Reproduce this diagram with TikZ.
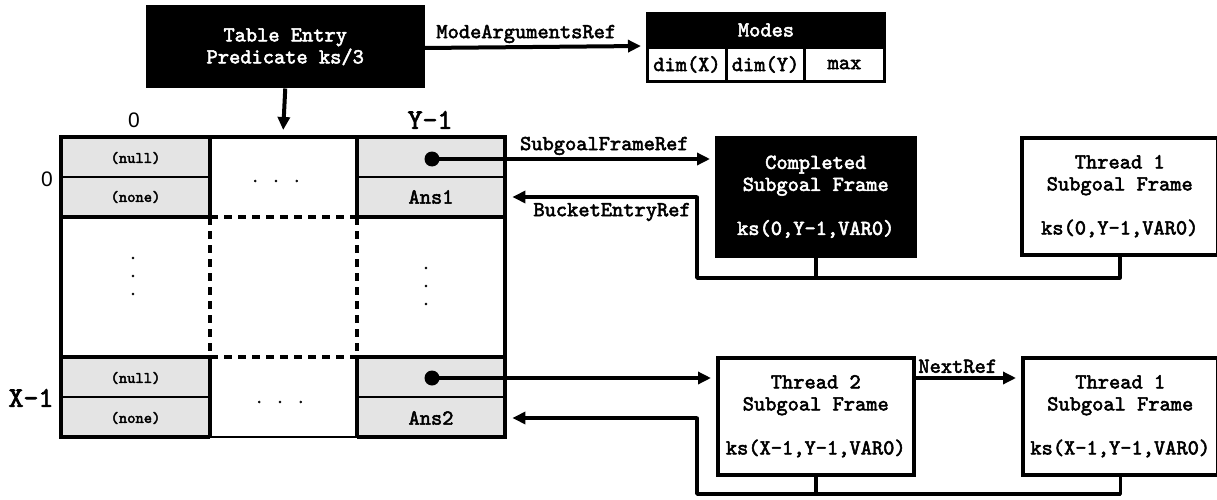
\documentclass[tikz,border=0pt]{standalone}
\usepackage{fontspec}
\newfontfamily\labsans{Liberation Sans}
\newfontfamily\courb[FakeBold=2.5]{lmmono10-regular.otf}
\usetikzlibrary{arrows.meta}
\definecolor{cellgray}{HTML}{E4E4E4}
\begin{document}
\begin{tikzpicture}[x=1pt,y=-1pt,
  mono/.style={font=\courb\fontsize{21.4}{22}\selectfont},
  small/.style={font=\courb\fontsize{15.8}{16}\selectfont},
  biglab/.style={font=\courb\fontsize{28.5}{30}\selectfont},
  sanslab/.style={font=\labsans\fontsize{21}{22}\selectfont},
  dotsh/.style={font=\courb\fontsize{17}{18}\selectfont, inner sep=0pt},
  dotsv/.style={font=\courb\fontsize{17}{18}\selectfont, inner sep=0pt, align=center},
  frame/.style={draw, line width=3.5pt, inner sep=0pt, align=center, mono, anchor=north west},
  blackframe/.style={frame, fill=black, text=white},
  conn/.style={line width=4pt, -{Triangle[length=13pt,width=12pt]}},
  bus/.style={line width=3.5pt, line cap=round, line join=round},
  gridthick/.style={line width=4.5pt},
  gridthin/.style={line width=1.5pt},
  griddash/.style={line width=4pt, dash pattern=on 8pt off 6pt},
  lab/.style={mono, inner sep=2pt}
]
\useasboundingbox (0,0) rectangle (1217,500);

% Table entry and modes
\node[blackframe, minimum width=275, minimum height=80] (te) at (146,5) {Table Entry\\Predicate ks/3};
\node[blackframe, line width=3pt, minimum width=237, minimum height=33] (modes) at (646,12) {Modes};
\node[frame, line width=3pt, minimum width=79, minimum height=34] (dx) at (646,46) {dim(X)};
\node[frame, line width=3pt, minimum width=78, minimum height=34] (dy) at (725,46) {dim(Y)};
\node[frame, line width=3pt, minimum width=80, minimum height=34] (mx) at (803,46) {max};

% grid
\fill[cellgray] (61,137) rectangle (210,217);
\fill[cellgray] (357,137) rectangle (505,217);
\fill[cellgray] (61,357) rectangle (210,437);
\fill[cellgray] (357,357) rectangle (505,437);
\node[inner sep=0pt, minimum width=444, minimum height=300, anchor=north west] (grid) at (61,137) {};

\draw[gridthin] (61,177) -- (210,177);
\draw[gridthin] (357,177) -- (505,177);
\draw[gridthin] (61,397) -- (210,397);
\draw[gridthin] (357,397) -- (505,397);

\draw[griddash] (210,217) -- (357,217);
\draw[griddash] (210,357) -- (357,357);
\draw[griddash] (210,217) -- (210,357);
\draw[griddash] (357,217) -- (357,357);

\draw[gridthick] (61,217) -- (210,217);
\draw[gridthick] (357,217) -- (505,217);
\draw[gridthick] (61,357) -- (210,357);
\draw[gridthick] (357,357) -- (505,357);
\draw[gridthick] (210,137) -- (210,217);
\draw[gridthick] (357,137) -- (357,217);
\draw[gridthick] (210,357) -- (210,437);
\draw[gridthick] (357,357) -- (357,437);
\draw[gridthick] (210,437) -- (61,437) -- (61,137) -- (505,137) -- (505,437) -- (357,437);
\draw[line width=2.5pt] (210,437) -- (357,437);

% cell texts
\node[small] (c00a) at (135.5,158) {(null)};
\node[small] (c00b) at (135.5,197) {(none)};
\node[small] (cx0a) at (135.5,378) {(null)};
\node[small] (cx0b) at (135.5,418) {(none)};
\node[mono] (ans1) at (431,197) {Ans1};
\node[mono] (ans2) at (431,418) {Ans2};
\fill (432,159) circle (7.5);
\coordinate (p1) at (432,159);
\fill (432,378) circle (7.5);
\coordinate (p2) at (432,378);

\node[dotsh] (dt1) at (276,181) {. . .};
\node[dotsh] (dt2) at (280,402) {. . .};
\node[dotsv] (dv1) at (133,276) {.\\.\\.};
\node[dotsv] (dv2) at (426,286) {.\\.\\.};

% axis labels
\node[sanslab] (col0) at (134,120) {0};
\node[biglab] (colY) at (430,120) {Y-1};
\node[sanslab] (row0) at (47,179) {0};
\node[biglab] (rowX) at (31,398) {X-1};

% frames
\node[blackframe, minimum width=198, minimum height=118] (comp) at (715,136) {Completed\\Subgoal Frame\\[22pt]ks(0,Y-1,VAR0)};
\node[frame, minimum width=196, minimum height=117] (t1a) at (1020,136) {Thread 1\\Subgoal Frame\\[22pt]ks(0,Y-1,VAR0)};
\node[frame, minimum width=196, minimum height=117] (t2) at (716,356) {Thread 2\\Subgoal Frame\\[22pt]ks(X-1,Y-1,VAR0)};
\node[frame, minimum width=195, minimum height=117] (t1b) at (1021,356) {Thread 1\\Subgoal Frame\\[22pt]ks(X-1,Y-1,VAR0)};

% connectors
\draw[conn] (te.south) -- ([yshift=7pt]grid.north);
\draw[conn] (te.east |- modes.south) -- node[lab, above, pos=0.47] (lma) {ModeArgumentsRef} ([xshift=-5pt]dx.north west);
\draw[conn] (p1) -- node[lab, above, pos=0.62] (lsf) {SubgoalFrameRef} ([xshift=-5pt]comp.west |- p1);
\draw[conn] (p2) -- ([xshift=-5pt]t2.west |- p2);
\draw[conn] (t2.east |- p2) -- node[lab, above, pos=0.42, yshift=1pt] (lnr) {NextRef} ([xshift=-5pt]t1b.west |- p2);

\coordinate (b1) at (697,278);
\coordinate (b2) at (697,494);
\draw[bus] (t1a.south) -- (t1a.south |- b1) -- (b1) -- (b1 |- ans1);
\draw[bus] (comp.south) -- (comp.south |- b1);
\draw[conn] (b1 |- ans1) -- node[lab, below, pos=0.46, yshift=-2pt] (lbe) {BucketEntryRef} ([xshift=7pt]grid.east |- ans1);
\draw[bus] (t1b.south) -- (t1b.south |- b2) -- (b2) -- (b2 |- ans2);
\draw[bus] (t2.south) -- (t2.south |- b2);
\draw[conn] (b2 |- ans2) -- ([xshift=7pt]grid.east |- ans2);
\end{tikzpicture}
\end{document}
